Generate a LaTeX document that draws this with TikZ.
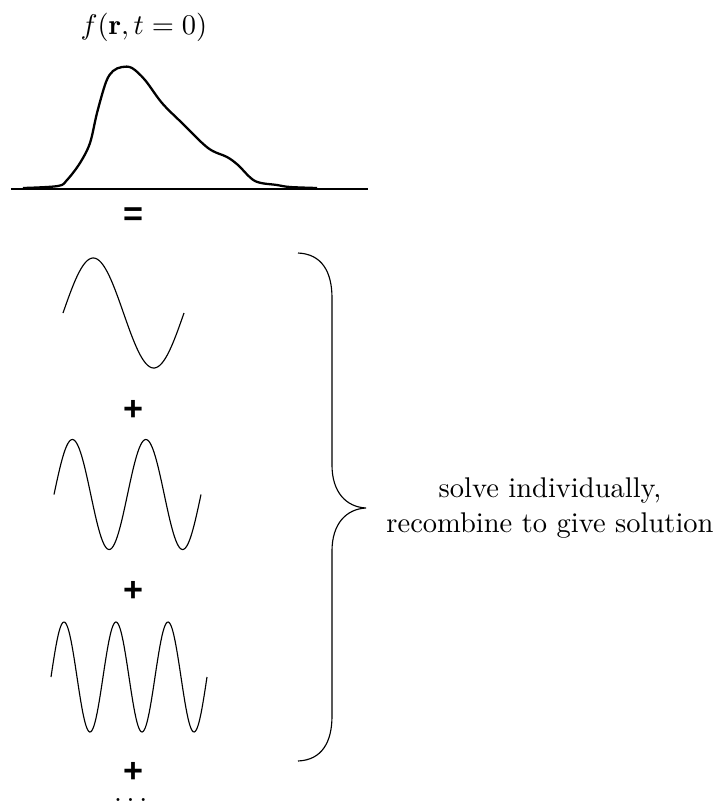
\documentclass[tikz,border=0pt]{standalone}
\usepackage{amsmath}
\usepackage{fontspec}
\setsansfont{Liberation Sans}
\usepackage{tikz}
\usetikzlibrary{positioning}

\begin{document}
\begin{tikzpicture}[
  x=0.351pt, y=-0.351pt,
  wave/.style={line width=0.4pt},
  pulse/.style={line width=0.8pt, line join=round},
  op/.style={font=\large\sffamily\bfseries, inner sep=0pt},
  bracket/.style={line width=0.4pt}
]
  \useasboundingbox (0,0) rectangle (725,812);

  \node (title) at (144,27) {$f(\mathbf{r},t=0)$};
  \draw[pulse] (11,189) -- (368,189);
  \draw[pulse] plot[smooth, tension=0.55] coordinates {
    (23,188) (58,186) (67,180) (80,163) (90,143) (97,113) (106,82) (113,71)
    (122,67) (132,68) (145,80) (162,103) (182,123) (208,148) (227,157)
    (238,165) (255,181) (277,185) (290,187) (317,188)};

  \node[op] (equals) at (133,217) {=};

  % the three harmonics
  \foreach \xs/\per/\n/\yc in {63/121/1/313, 54/73.5/2/494.5, 51/52/3/677}
    \draw[wave] plot[domain=0:360*\n, samples=150] ({\xs+\x/360*\per}, {\yc-55*sin(\x)});

  \node[op] (plusa) at (133,410) {+};
  \node[op] (plusb) at (133,591) {+};
  \node[op] (plusc) at (133,772) {+};
  \node[inner sep=0pt] (dots) at (133,800) {$\dots$};

  \draw[bracket] (298,253) .. controls (322,254) and (332,272) .. (332,298)
    -- (332,465) .. controls (332,492) and (346,507) .. (366,508)
    .. controls (346,509) and (332,524) .. (332,551)
    -- (332,716) .. controls (332,742) and (322,760) .. (298,761);

  \node[align=center] (solve) at (550,508) {solve individually,\\recombine to give solution};
\end{tikzpicture}
\end{document}
